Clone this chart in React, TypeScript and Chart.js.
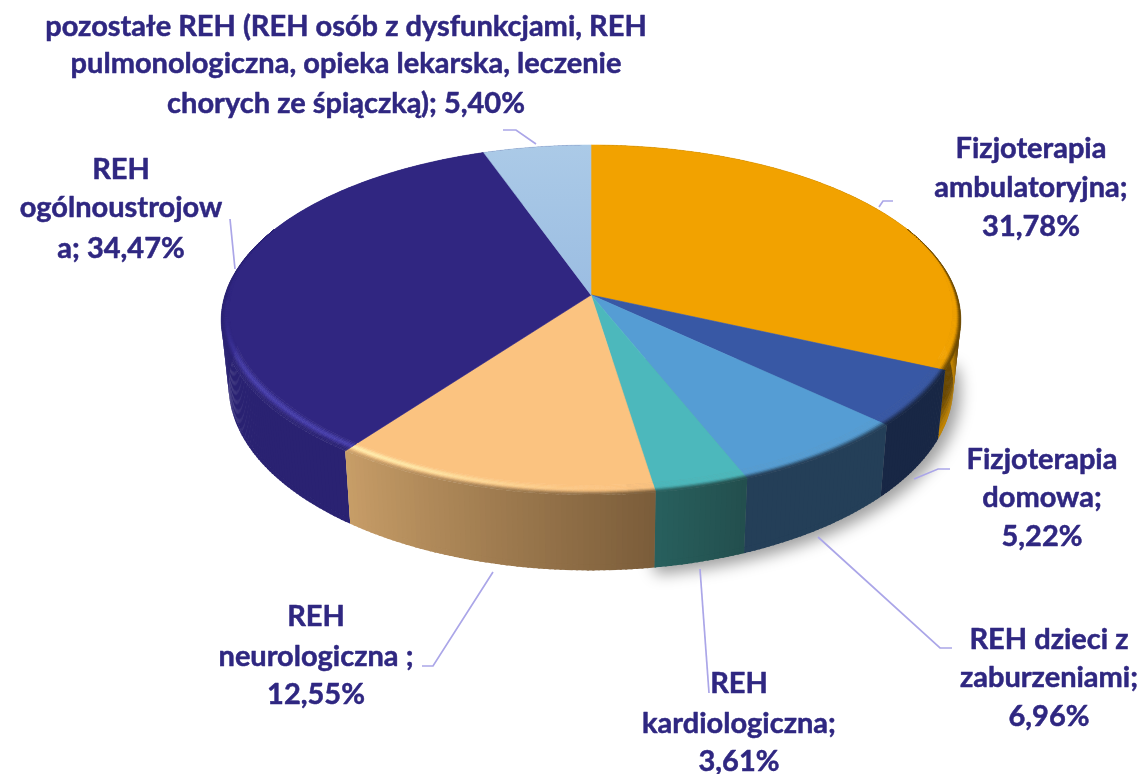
import React, { useEffect, useRef } from "react";
import { Chart, registerables } from "chart.js";

Chart.register(...registerables);

const categories = [
  "Fizjoterapia ambulatoryjna",
  "Fizjoterapia domowa",
  "REH dzieci z zaburzeniami",
  "REH kardiologiczna",
  "REH neurologiczna",
  "REH ogólnoustrojowa",
  "pozostałe REH",
];
const shares = [31.78, 5.22, 6.96, 3.61, 12.55, 34.47, 5.4];
const labelLines = [
  ["Fizjoterapia", "ambulatoryjna;", "31,78%"],
  ["Fizjoterapia", "domowa;", "5,22%"],
  ["REH dzieci z", "zaburzeniami;", "6,96%"],
  ["REH", "kardiologiczna;", "3,61%"],
  ["REH", "neurologiczna ;", "12,55%"],
  ["REH", "ogólnoustrojow", "a; 34,47%"],
  [
    "pozostałe REH (REH osób z dysfunkcjami, REH",
    "pulmonologiczna, opieka lekarska, leczenie",
    "chorych ze śpiączką); 5,40%",
  ],
];

const faceColors = ["#F2A200", "#3858A5", "#559DD4", "#4CB8BC", "#FBC380", "#302681", "#A3C4E5"];
const wallStart = ["#6A4800", "#182745", "#243F58", "#234F4E", "#7B5D3A", "#2A2272", "#2A2272"];
const wallEnd = ["#6A4800", "#182745", "#243F58", "#28605E", "#C89E68", "#2A2272", "#2A2272"];

const labelAnchors = [
  { x: 1031, y: [149, 188, 227] },
  { x: 1042, y: [460, 498, 537] },
  { x: 1049, y: [640, 678, 717] },
  { x: 739, y: [684, 724, 762] },
  { x: 316, y: [617, 657, 695] },
  { x: 121, y: [170, 208, 249] },
  { x: 346, y: [27, 64, 104] },
];
const leaders = [
  [[879, 207], [883, 201], [893, 201]],
  [[914, 479], [938, 469], [950, 469]],
  [[818, 537], [940, 648], [952, 648]],
  [[700, 569], [709, 693]],
  [[493, 572], [433, 666], [422, 666]],
  [[230, 219], [235, 269]],
  [[503, 130], [516, 130], [536, 144]],
];

// Projection of the unit disc onto the page (perspective tilt of the pie).
const CX = 591;
const CY = 295;
const R = 366;
const A = 171.4;
const K = -0.1429;
const DEPTH = 64;
const LOWER = 0.98;

function project(a: number, r: number, s: number) {
  const u = r * Math.cos(a);
  const v = r * Math.sin(a);
  const w = 1 + K * v;
  const sc = 1 + (LOWER - 1) * s;
  return { x: CX + (R * sc * u) / w, y: CY + (A * v + DEPTH * s) / w };
}

function rgb(hex: string) {
  return [1, 3, 5].map((i) => parseInt(hex.slice(i, i + 2), 16));
}
function mix(c1: number[], c2: number[], t: number) {
  const q = Math.max(0, Math.min(1, t));
  return c1.map((c, i) => c + (c2[i] - c) * q);
}
function css(c: number[]) {
  return `rgb(${Math.round(c[0])},${Math.round(c[1])},${Math.round(c[2])})`;
}
function smooth(t: number) {
  const q = Math.max(0, Math.min(1, t));
  return q * q * (3 - 2 * q);
}

const STEP = (Math.PI / 180) * 0.75;

function wallColor(i: number, f: number, s: number) {
  let c = mix(rgb(wallStart[i]), rgb(wallEnd[i]), f);
  if (i === 0) c = mix(c, rgb("#C88800"), smooth((s - 0.35) / 0.65));
  if (s > 0.93 && i !== 0) c = c.map((x) => x * 0.78);
  return c;
}

function rimWidth(a: number) {
  return 0.042 * Math.max(0, Math.min(1, (Math.sin(a) + 0.4) / 1.0));
}

function quad(ctx: CanvasRenderingContext2D, p: { x: number; y: number }[], col: string, lw = 0.6) {
  ctx.fillStyle = col;
  ctx.strokeStyle = col;
  ctx.lineWidth = lw;
  ctx.beginPath();
  ctx.moveTo(p[0].x, p[0].y);
  for (let i = 1; i < p.length; i++) ctx.lineTo(p[i].x, p[i].y);
  ctx.closePath();
  ctx.fill();
  ctx.stroke();
}

function highlight(i: number, a: number) {
  const deg = (((a * 180) / Math.PI) % 360 + 360) % 360; // canvas degrees, 90 = front
  if (i === 4) return { c: rgb("#FFEFAE"), s: smooth((deg - 85) / 40) };
  if (i === 5) return { c: rgb("#4A42B4"), s: smooth((175 - deg) / 25) * 0.9 };
  return null;
}

const pie3d = {
  id: "pie3d",
  beforeDatasetDraw(chart: any) {
    const ctx: CanvasRenderingContext2D = chart.ctx;
    const arcs = chart.getDatasetMeta(0).data as any[];
    ctx.save();

    // soft shadow under the front right part of the pie
    ctx.save();
    ctx.shadowColor = "rgba(0,0,0,0.38)";
    ctx.shadowBlur = 15;
    ctx.shadowOffsetX = 7;
    ctx.shadowOffsetY = 7;
    ctx.fillStyle = "#888";
    ctx.beginPath();
    const c0 = project(0, 0, 1);
    ctx.moveTo(c0.x, c0.y);
    for (let d = 0; d <= 82; d += 1) {
      const p = project((d * Math.PI) / 180, 1, 1);
      ctx.lineTo(p.x, p.y);
    }
    ctx.closePath();
    ctx.fill();
    ctx.restore();

    // side walls, back to front
    const order = arcs
      .map((_, i) => i)
      .sort(
        (p, q) =>
          Math.sin((arcs[p].startAngle + arcs[p].endAngle) / 2) -
          Math.sin((arcs[q].startAngle + arcs[q].endAngle) / 2)
      );
    for (const i of order) {
      const { startAngle: a0, endAngle: a1 } = arcs[i];
      const bands = i === 0 ? [0, 0.2, 0.4, 0.5, 0.6, 0.7, 0.8, 0.9, 1] : [0, 0.93, 1];
      for (let k = 0; k < bands.length - 1; k++) {
        const s0 = bands[k];
        const s1 = bands[k + 1];
        // paint each band as one run of slightly overlapping columns
        for (let a = a0; a < a1; a += STEP) {
          const b = Math.min(a + STEP * 1.4, a1);
          const f = (a - a0) / (a1 - a0);
          ctx.fillStyle = css(wallColor(i, f, s0));
          ctx.beginPath();
          const p0 = project(a, 1, s0);
          const p1 = project(b, 1, s0);
          const p2 = project(b, 1, s1 + 0.01);
          const p3 = project(a, 1, s1 + 0.01);
          ctx.moveTo(p0.x, p0.y);
          ctx.lineTo(p1.x, p1.y);
          ctx.lineTo(p2.x, p2.y);
          ctx.lineTo(p3.x, p3.y);
          ctx.closePath();
          ctx.fill();
        }
      }
    }

    // top faces
    arcs.forEach((arc, i) => {
      const { startAngle: a0, endAngle: a1 } = arc;
      ctx.beginPath();
      ctx.moveTo(CX, CY);
      for (let a = a0; a < a1; a += STEP) {
        const p = project(a, 1 - rimWidth(a), 0);
        ctx.lineTo(p.x, p.y);
      }
      const pe = project(a1, 1 - rimWidth(a1), 0);
      ctx.lineTo(pe.x, pe.y);
      ctx.closePath();
      let fill: any = faceColors[i];
      if (i === 6) {
        const g = ctx.createLinearGradient(0, 145, 0, 295);
        g.addColorStop(0, "#ABCAE7");
        g.addColorStop(1, "#9BBDE2");
        fill = g;
      }
      ctx.fillStyle = fill;
      ctx.strokeStyle = fill;
      ctx.lineWidth = 0.6;
      ctx.fill();
      ctx.stroke();
    });

    // bevelled rim between face and wall
    const RIM = 8;
    arcs.forEach((arc, i) => {
      const { startAngle: a0, endAngle: a1 } = arc;
      const face = rgb(faceColors[i]);
      for (let a = a0; a < a1; a += STEP) {
        const b = Math.min(a + STEP, a1);
        const f = (a - a0) / (a1 - a0);
        const wall = wallColor(i, f, 0);
        const hl = highlight(i, a);
        const wa = rimWidth(a);
        const wb = rimWidth(b);
        if (wa <= 0 && wb <= 0) continue;
        for (let k = 0; k < RIM; k++) {
          const t0 = k / RIM;
          const t1 = (k + 1) / RIM;
          const tm = (t0 + t1) / 2;
          let c = mix(face, wall, smooth((tm - 0.45) / 0.55));
          if (hl) {
            const bump = Math.max(0, 1 - Math.abs(tm - 0.4) / 0.35);
            c = mix(c, hl.c, bump * hl.s);
          }
          quad(
            ctx,
            [
              project(a, 1 - wa * (1 - t0), 0),
              project(b, 1 - wb * (1 - t0), 0),
              project(b, 1 - wb * (1 - t1), 0),
              project(a, 1 - wa * (1 - t1), 0),
            ],
            css(c)
          );
        }
      }
    });
    ctx.restore();
    return false;
  },
  afterDraw(chart: any) {
    const ctx: CanvasRenderingContext2D = chart.ctx;
    ctx.save();
    ctx.strokeStyle = "#ABA6E8";
    ctx.lineWidth = 1.7;
    leaders.forEach((pts) => {
      ctx.beginPath();
      pts.forEach(([x, y], j) => (j ? ctx.lineTo(x, y) : ctx.moveTo(x, y)));
      ctx.stroke();
    });
    ctx.fillStyle = "#2F2781";
    ctx.strokeStyle = "#2F2781";
    ctx.lineWidth = 0.5;
    ctx.lineJoin = "round";
    ctx.font = 'bold 29px Lato, "Open Sans", sans-serif';
    ctx.textAlign = "center";
    ctx.textBaseline = "middle";
    labelLines.forEach((lines, i) => {
      lines.forEach((line, j) => {
        ctx.fillText(line, labelAnchors[i].x, labelAnchors[i].y[j]);
        ctx.strokeText(line, labelAnchors[i].x, labelAnchors[i].y[j]);
      });
    });
    ctx.restore();
  },
};

export default function App() {
  const ref = useRef<HTMLCanvasElement>(null);
  useEffect(() => {
    if (!ref.current) return;
    const chart = new Chart(ref.current, {
      type: "pie",
      data: {
        labels: categories,
        datasets: [{ data: shares, backgroundColor: faceColors, borderWidth: 0 }],
      },
      options: {
        responsive: false,
        animation: false,
        plugins: { legend: { display: false }, tooltip: { enabled: false } },
      },
      plugins: [pie3d],
    } as any);
    return () => chart.destroy();
  }, []);
  return (
    <canvas
      ref={ref}
      width={1148}
      height={774}
      style={{ position: "absolute", left: 0, top: 0, width: 1148, height: 774, background: "#fff" }}
    />
  );
}
